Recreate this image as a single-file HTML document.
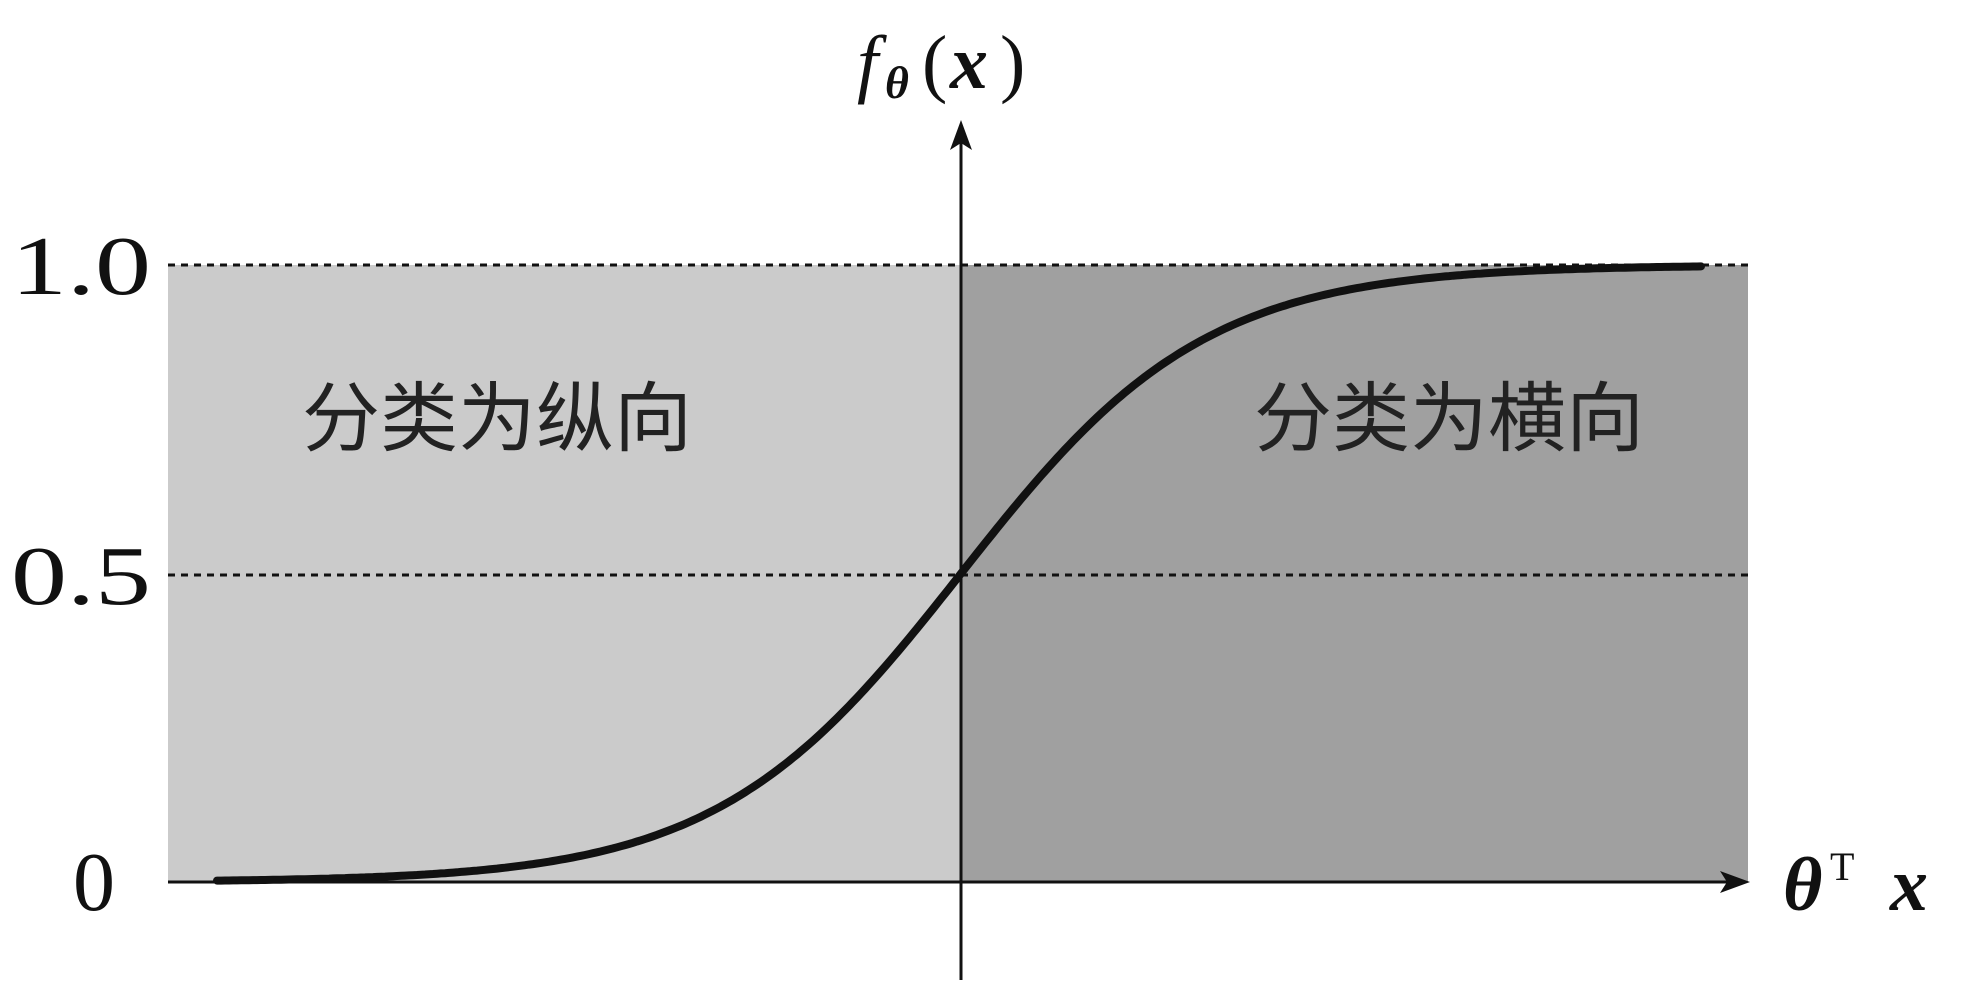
<!DOCTYPE html>
<html><head><meta charset="utf-8"><style>
html,body{margin:0;padding:0;background:#fff;}
svg{display:block}
</style></head><body>
<svg id="s" width="1966" height="1000" viewBox="0 0 1966 1000" xmlns="http://www.w3.org/2000/svg">
<rect x="168" y="265" width="793" height="617" fill="#cbcbcb"/>
<rect x="961" y="265" width="787" height="617" fill="#a0a0a0"/>
<line x1="168" y1="265" x2="1748" y2="265" stroke="#111" stroke-width="3" stroke-dasharray="7,6"/>
<line x1="168" y1="575" x2="1748" y2="575" stroke="#111" stroke-width="3" stroke-dasharray="7,6"/>
<line x1="961" y1="980" x2="961" y2="130" stroke="#111" stroke-width="3"/>
<polygon points="961,120 950,150 961,143 972,150" fill="#111"/>
<line x1="168" y1="882" x2="1738" y2="882" stroke="#111" stroke-width="3"/>
<polygon points="1750,882 1720,871 1727,882 1720,893" fill="#111"/>
<path id="curve" d="" fill="none" stroke="#111" stroke-width="8" stroke-linecap="round"/>
<g font-family="Liberation Serif, serif" fill="#111">
<text x="151" y="294" font-size="84" text-anchor="end" textLength="140" lengthAdjust="spacingAndGlyphs">1.0</text>
<text x="151" y="604" font-size="84" text-anchor="end" textLength="140" lengthAdjust="spacingAndGlyphs">0.5</text>
<text x="115" y="910" font-size="84" text-anchor="end">0</text>
<text x="857" y="88" font-size="76" font-style="italic">f</text>
<text x="885" y="98" font-size="46" font-style="italic" font-weight="bold">θ</text>
<text x="922" y="88" font-size="76">(</text>
<text x="950" y="88" font-size="76" font-style="italic" font-weight="bold">x</text>
<text x="1000" y="88" font-size="76">)</text>
<text x="1783" y="910" font-size="76" font-style="italic" font-weight="bold">θ</text>
<text x="1830" y="880" font-size="40">T</text>
<text x="1890" y="910" font-size="76" font-style="italic" font-weight="bold">x</text>
</g>
<g font-family="Liberation Sans, 'Noto Sans CJK SC', sans-serif" fill="#222" font-size="76">
<text x="302" y="445" textLength="390" lengthAdjust="spacingAndGlyphs">分类为纵向</text>
<text x="1254" y="445" textLength="390" lengthAdjust="spacingAndGlyphs">分类为横向</text>
</g>
</svg>
<script>
var d="";for(var x=217;x<=1704;x+=4){var y=882-617/(1+Math.exp(-0.0082*(x-961)));d+=(x==217?"M":"L")+x+","+y.toFixed(1);}
document.getElementById("curve").setAttribute("d",d);
</script>
</body></html>
